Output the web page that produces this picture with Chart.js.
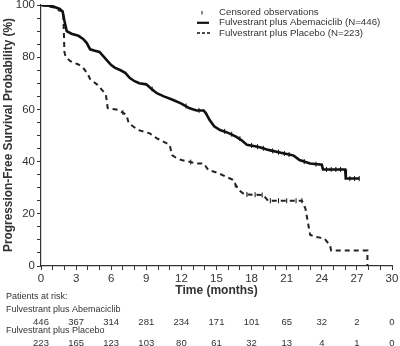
<!DOCTYPE html>
<html>
<head>
<meta charset="utf-8">
<script src="https://cdn.jsdelivr.net/npm/chart.js@4"></script>
<style>
html,body{margin:0;padding:0;background:#fff;}
canvas{display:block;}
</style>
</head>
<body>
<canvas id="c" width="400" height="346"></canvas>
<script>
// ---- Data ----
const abemaMonths = [0,1.0,1.6,1.85,2.0,2.2,2.6,3.2,3.6,3.9,4.2,4.6,5.0,5.3,5.6,6.0,6.3,6.8,7.2,7.6,8.0,8.4,9.0,9.4,9.9,10.5,11.3,12.0,12.7,13.3,13.9,14.1,14.4,14.8,15.3,16.0,16.7,17.2,17.6,18.3,18.7,19.3,19.6,20.5,21.3,21.6,22.1,23.0,24.0,24.1,26.0,26.05,27.2];
const abemaSurv   = [100,99.5,98.5,97.5,94,90,89,88.2,87,85.5,83,82.5,82,80.5,79,77,76,75,74,72,70.8,70,69.6,68,66.2,65,63.6,62.2,60.4,59.6,59.6,58.5,56,53.5,52.1,51,49.5,48,46.4,45.9,45.5,44.6,44.3,43.4,42.6,42.3,40.6,39.3,38.8,37.0,37.0,33.5,33.5];

const placeboMonths = [0,1.2,1.5,1.9,1.95,2.0,2.1,2.5,3.2,3.6,4.0,4.2,4.8,5.3,5.55,5.7,6.6,7.3,7.5,8.3,9.3,9.9,10.2,11.0,11.2,11.6,12.0,13.3,13.9,14.3,15.2,16.4,16.9,17.4,19.0,19.4,22.3,22.6,23.0,23.4,24.2,24.7,24.8,27.9,27.9];
const placeboSurv   = [100,99,98,97.5,90,82,80.2,78.5,77.2,76,73.5,71.6,69.5,67,65.5,60.5,59.8,57.9,54.7,52.1,50.8,48.9,48.3,46.4,42.5,41.3,40.6,39.3,39.3,36.8,35.5,33.0,29.1,27.4,27.2,25,25,22,12,11.2,10.6,8,5.9,5.9,0];

const abemaCensorMonths = [9.5,12.4,13.5,15.7,16.3,17.0,18.0,18.5,19.0,19.8,20.3,20.8,21.2,22.5,23.5,24.4,24.8,25.2,25.6,26.4,26.8,27.2];
const abemaCensorSurv   = [67.8,61.3,59.6,51.6,50.5,48.8,46.2,45.7,45.1,44.1,43.6,43.1,42.7,40.0,39.0,37.0,37.0,37.0,37.0,33.5,33.5,33.5];
const placeboCensorMonths = [7.0,12.8,16.6,17.6,18.3,18.9,19.6,20.3,21.0,21.8,22.3];
const placeboCensorSurv   = [58.8,39.8,31.0,27.4,27.3,27.2,25,25,25,25,25];

const riskTimes   = [0,3,6,9,12,15,18,21,24,27,30];
const riskAbema   = [446,367,314,281,234,171,101,65,32,2,0];
const riskPlacebo = [223,165,123,103,80,61,32,13,4,1,0];

const seriesNames = ['Fulvestrant plus Abemaciclib (N=446)','Fulvestrant plus Placebo (N=223)'];
const censorLabel = 'Censored observations';
const riskRowNames = ['Fulvestrant plus Abemaciclib','Fulvestrant plus Placebo'];
const riskHeader = 'Patients at risk:';
const xTitle = 'Time (months)';
const yTitle = 'Progression-Free Survival Probability (%)';

// ---- build ----
const toXY = (xs, ys) => xs.map((x, i) => ({x: x, y: ys[i]}));
const FONT = '"Liberation Sans", Arial, sans-serif';
const TXT = '#333';

const overlay = {
  id: 'overlay',
  afterDraw(chart) {
    const ctx = chart.ctx;
    const xs = chart.scales.x;
    const ca = chart.chartArea;
    ctx.save();
    ctx.fillStyle = TXT;
    // y title
    ctx.font = 'bold 12px ' + FONT;
    let w = ctx.measureText(yTitle).width;
    const ySize = 12 * 234 / w;
    ctx.font = 'bold ' + ySize.toFixed(2) + 'px ' + FONT;
    ctx.translate(9, 135);
    ctx.rotate(-Math.PI / 2);
    ctx.textAlign = 'center';
    ctx.textBaseline = 'middle';
    ctx.fillText(yTitle, 0, 0);
    ctx.restore();

    ctx.save();
    ctx.fillStyle = TXT;
    // x title
    ctx.font = 'bold 12px ' + FONT;
    ctx.textAlign = 'center';
    ctx.textBaseline = 'middle';
    ctx.fillText(xTitle, (ca.left + ca.right) / 2, 291);

    // legend
    ctx.font = '9.7px ' + FONT;
    ctx.textAlign = 'left';
    const lx = 219, rows = [12.5, 22.8, 33];
    ctx.fillText(censorLabel, lx, rows[0]);
    ctx.fillText(seriesNames[0], lx, rows[1]);
    ctx.fillText(seriesNames[1], lx, rows[2]);
    ctx.strokeStyle = '#111';
    ctx.lineWidth = 1;
    ctx.beginPath(); ctx.moveTo(202, rows[0] - 1.5); ctx.lineTo(202, rows[0] + 2); ctx.stroke();
    ctx.lineWidth = 2.2;
    ctx.beginPath(); ctx.moveTo(197, rows[1]); ctx.lineTo(209, rows[1]); ctx.stroke();
    ctx.lineWidth = 1.6;
    ctx.setLineDash([3, 2]);
    ctx.beginPath(); ctx.moveTo(197, rows[2]); ctx.lineTo(211, rows[2]); ctx.stroke();
    ctx.setLineDash([]);

    // risk table
    ctx.font = '9px ' + FONT;
    ctx.textAlign = 'left';
    ctx.fillText(riskHeader, 6, 297);
    ctx.fillText(riskRowNames[0], 6, 310);
    ctx.fillText(riskRowNames[1], 6, 331);
    ctx.font = '9.5px ' + FONT;
    ctx.textAlign = 'center';
    riskTimes.forEach((t, i) => {
      const px = xs.getPixelForValue(t);
      ctx.fillText(String(riskAbema[i]), px, 322.5);
      ctx.fillText(String(riskPlacebo[i]), px, 343);
    });
    ctx.restore();
  }
};

const gridOpts = {display: true, drawOnChartArea: false, drawTicks: true, tickLength: 4, color: '#333', lineWidth: 1};

new Chart(document.getElementById('c'), {
  type: 'line',
  data: {
    datasets: [
      {label: seriesNames[0], data: toXY(abemaMonths, abemaSurv), borderColor: '#111', borderWidth: 2.6, pointRadius: 0, tension: 0, fill: false},
      {label: seriesNames[1], data: toXY(placeboMonths, placeboSurv), borderColor: '#222', borderWidth: 2, borderDash: [5, 4], pointRadius: 0, tension: 0, fill: false},
      {label: censorLabel, type: 'scatter', data: toXY(abemaCensorMonths, abemaCensorSurv), pointStyle: 'line', rotation: 90, radius: 2.5, borderColor: '#111', borderWidth: 1, showLine: false},
      {label: censorLabel, type: 'scatter', data: toXY(placeboCensorMonths, placeboCensorSurv), pointStyle: 'line', rotation: 90, radius: 2.5, borderColor: '#111', borderWidth: 1, showLine: false}
    ]
  },
  options: {
    responsive: false,
    animation: false,
    devicePixelRatio: 1,
    layout: {padding: {top: 5, right: 8, left: 0, bottom: 0}},
    plugins: {legend: {display: false}, tooltip: {enabled: false}},
    scales: {
      x: {
        type: 'linear', min: 0, max: 30,
        grid: gridOpts,
        border: {display: true, color: '#333', width: 1.2},
        ticks: {stepSize: 1, autoSkip: false, maxRotation: 0, padding: 2, color: TXT, font: {family: FONT, size: 11.5},
          callback: v => (v % 3 === 0 ? String(v) : '')},
        afterFit: s => { s.height = 80; s.paddingLeft = 0; s.paddingRight = 0; }
      },
      y: {
        type: 'linear', min: 0, max: 100,
        grid: gridOpts,
        border: {display: true, color: '#333', width: 1.2},
        ticks: {stepSize: 5, autoSkip: false, padding: 2, color: TXT, font: {family: FONT, size: 11.5},
          callback: v => (v % 20 === 0 ? String(v) : '')},
        afterFit: s => { s.width = 41; s.paddingTop = 0; s.paddingBottom = 0; }
      }
    }
  },
  plugins: [overlay]
});
</script>
</body>
</html>
